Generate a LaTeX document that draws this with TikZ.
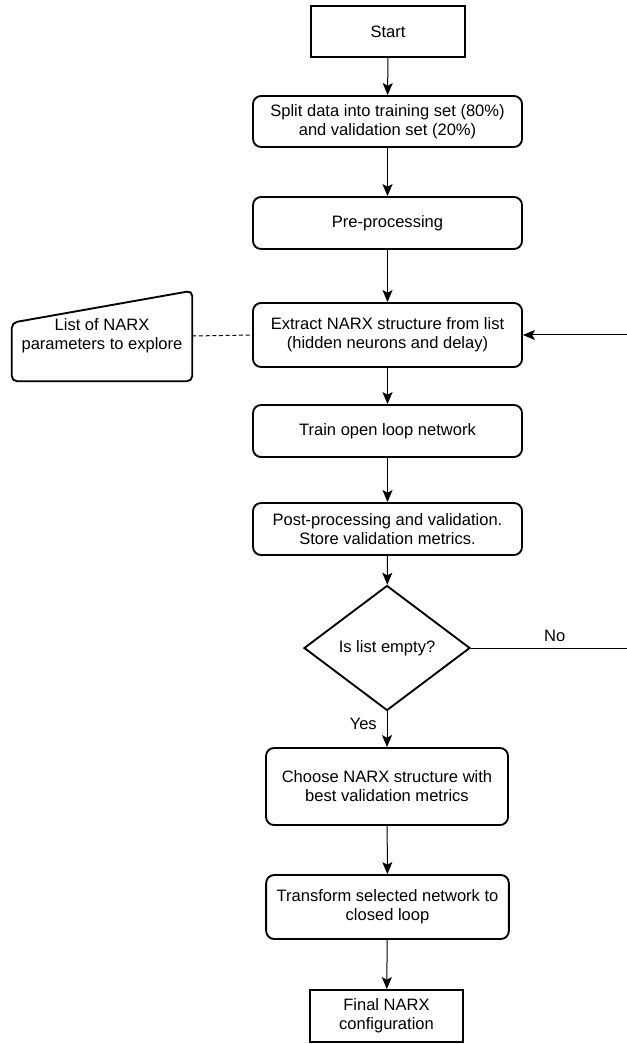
\documentclass[tikz,border=0pt]{standalone}
\usepackage{fontspec}
\setmainfont{Liberation Sans}
\usetikzlibrary{shapes.geometric,arrows.meta}

\tikzstyle{terminal} = [rectangle, draw, line width=1.4pt, align=center, minimum width=115.5pt, minimum height=38.25pt]
\tikzstyle{etape} = [rectangle, draw, line width=1.4pt, align=center, rounded corners=6pt, minimum width=201.75pt, minimum height=39pt]
\tikzstyle{choix} = [diamond, draw, line width=1.4pt, align=center, inner sep=0pt, minimum width=124.5pt, minimum height=93.75pt]
\tikzstyle{saisie} = [rectangle, align=center, minimum width=135pt, minimum height=67.5pt]
\tikzstyle{fleche} = [-{Stealth[length=9pt, width=7.5pt, inset=2pt]}, line width=0.75pt]

\begin{document}
\begin{tikzpicture}[x=0.75pt, y=-0.75pt, font=\fontsize{12.4}{14.3}\selectfont]

    \useasboundingbox (0,0) rectangle (626,1044);

    %  nodes
    \node [terminal] (start) at (388,31.5) {Start};
    \node [etape, minimum height=38.25pt] (split) at (387.5,121.5) {Split data into training set (80\%)\\and validation set (20\%)};
    \node [etape] (pre) at (387.5,223) {Pre-processing};
    \node [etape, minimum height=48pt] (extract) at (387.5,335) {Extract NARX structure from list\\(hidden neurons and delay)};
    \node [etape] (train) at (387.5,431) {Train open loop network};
    \node [etape] (post) at (387.5,529) {Post-processing and validation.\\Store validation metrics.};

    %-------------------------------------------------------------
    \node [choix] (empty) at (387,648) {Is list empty?};
    \node [etape, minimum width=181.5pt, minimum height=57.75pt] (choose) at (387,786.5) {Choose NARX structure with\\best validation metrics};
    \node [etape, minimum width=182pt, minimum height=48pt] (transform) at (387.5,907) {Transform selected network to\\closed loop};
    \node [terminal, minimum width=115pt, minimum height=39pt] (final) at (386.5,1016) {Final NARX\\configuration};

    %-------------------------------------------------------------
    \node [saisie] (list) at (102,336) {List of NARX\\parameters to explore};
    \draw [line width=1.4pt, rounded corners=4pt] (list.south west) -- ([yshift=-24pt]list.north west) -- (list.north east) -- (list.south east) -- cycle;

    %  connectors
    \draw [fleche] (start) -- (split);
    \draw [fleche] (split) -- (pre);
    \draw [fleche] (pre) -- (extract);
    \draw [fleche] (extract) -- (train);
    \draw [fleche] (train) -- (post);
    \draw [fleche] (post) -- (empty);
    \draw [fleche] (empty) -- node [left=4pt, pos=0.35] {Yes} (choose);
    \draw [fleche] (choose) -- (transform);
    \draw [fleche] (transform) -- (final);

    \draw [dashed, dash pattern=on 3pt off 2pt, line width=0.75pt] (list.east) -- (extract.west);

    % the way back runs off the right edge
    \coordinate (bord) at (629,648);
    \draw [line width=0.75pt] (empty.east) -- node [pos=0.53, above=1pt] {No} (bord);
    \draw [fleche] (bord) |- (extract.east);

\end{tikzpicture}
\end{document}
